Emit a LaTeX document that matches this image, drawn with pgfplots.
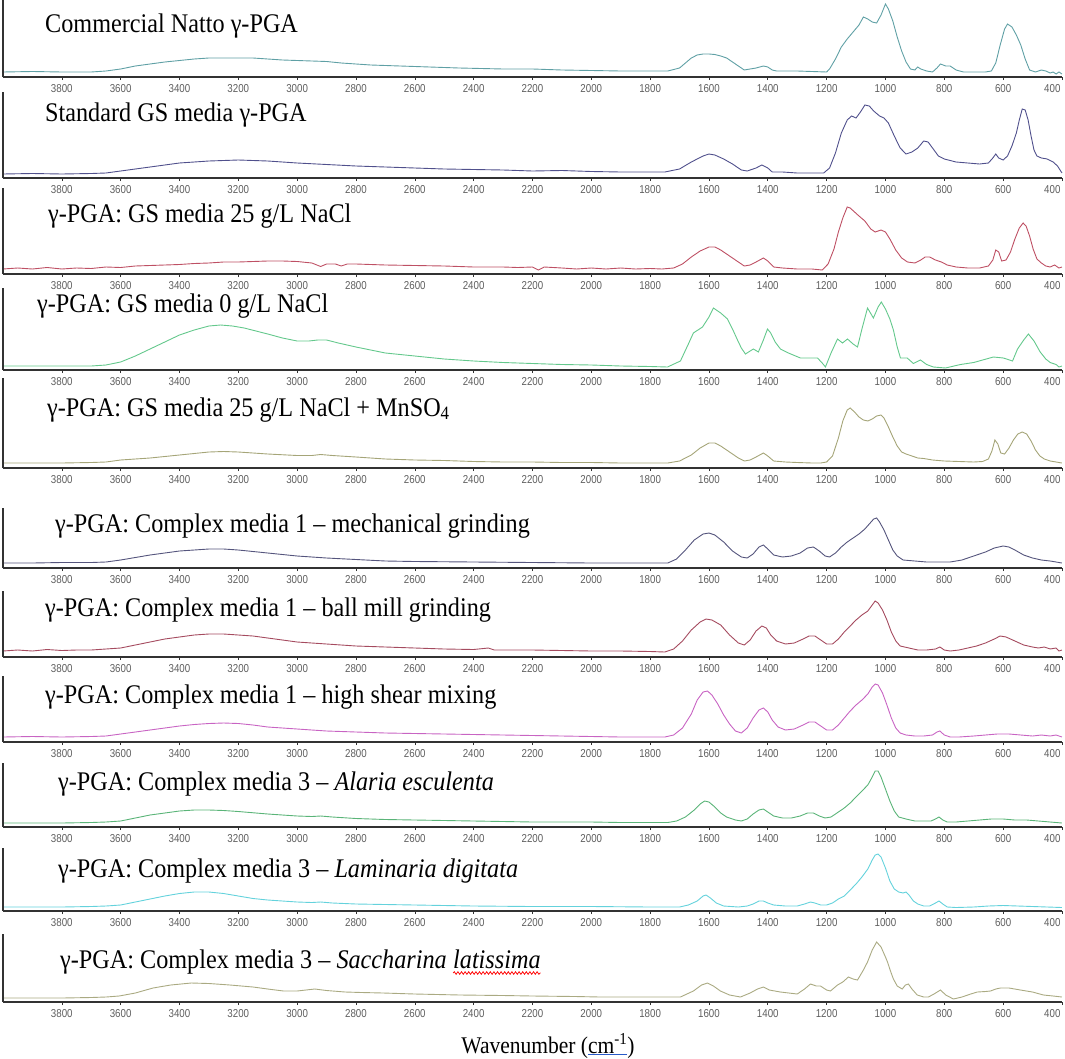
\documentclass[border=0pt]{standalone}
\usepackage{fontspec}
\setmainfont{Liberation Serif}
\newfontfamily\ticksf{Liberation Sans}
\usepackage{graphicx}
\usepackage{pgfplots}
\pgfplotsset{compat=1.18}
\usetikzlibrary{decorations.pathmorphing}
\definecolor{cA}{RGB}{95,160,165}
\definecolor{cB}{RGB}{80,80,140}
\definecolor{cC}{RGB}{190,80,100}
\definecolor{cD}{RGB}{100,200,140}
\definecolor{cE}{RGB}{165,165,120}
\definecolor{cF}{RGB}{85,85,125}
\definecolor{cG}{RGB}{165,75,95}
\definecolor{cH}{RGB}{200,100,195}
\definecolor{cI}{RGB}{90,180,120}
\definecolor{cJ}{RGB}{100,210,220}
\definecolor{cK}{RGB}{170,170,130}
\definecolor{axc}{RGB}{50,50,50}
\definecolor{tkc}{RGB}{95,95,95}
\pgfplotsset{panel/.style={scale only axis, width=1059bp, xmin=400, xmax=4000, x dir=reverse,
  ymin=0, axis x line*=bottom, axis y line=none, xtick={600,800,...,3800},
  extra x ticks={400},
  extra x tick style={xticklabel style={anchor=north east, xshift=2bp}},
  tick align=outside, major tick length=3bp,
  axis line style={line width=1.3bp, color=axc},
  xtick style={line width=0.6bp, color=axc},
  xticklabel style={font=\ticksf\fontsize{11.5}{12}\selectfont, text=tkc, yshift=-1bp},
  xticklabel={\scalebox{0.85}[1]{\pgfmathprintnumber{\tick}}},
  /pgf/number format/1000 sep={}, /pgf/number format/assume math mode=true,
  clip=false, anchor=south west}}
\newcommand\panel[4]{%
\begin{axis}[panel, at={(3bp,-#1bp)}, height=#2bp, ymax=#2]
\addplot[color=#3, line width=0.9bp] coordinates {#4};
\draw[line width=1.3bp, color=axc] (axis cs:4000,0) -- (axis cs:4000,#2);
\end{axis}}
\newcommand\plabel[3]{\node[anchor=base west, inner sep=0pt, font=\fontsize{27}{27}\selectfont] at (#1bp,-#2bp) {\scalebox{0.9}[1]{#3}};}
\newcommand\redwavy[1]{\tikz[baseline=(t.base)]{\node[inner sep=0pt,outer sep=0pt,anchor=base](t){#1};\draw[red,line width=0.8bp,decorate,decoration={snake,amplitude=1.3bp,segment length=4bp}]([yshift=-5bp]t.base west)--([yshift=-5bp]t.base east);}}
\begin{document}
\begin{tikzpicture}
\useasboundingbox (0,0) rectangle (1065bp,-1059bp);
% Panel 1
\panel{77}{77}{cA}{(4000,5)(3900,5.5)(3800,5)(3700,5)(3650,6)(3600,8)(3550,11)(3500,13)(3450,15)(3400,16.5)(3350,18)(3300,19)(3250,19)(3200,19)(3150,19)(3100,18)(3050,17)(3000,16.5)(2950,16)(2900,15.5)(2850,14)(2800,13)(2750,12)(2700,11.5)(2650,11)(2550,10)(2450,9)(2300,8)(2200,8)(2100,7)(2000,6.5)(1900,6)(1800,6)(1740,6)(1700,9)(1680,14)(1660,19)(1640,22)(1620,23)(1600,23)(1580,22.5)(1560,21)(1540,19)(1520,15)(1500,11)(1480,7)(1460,8)(1440,9)(1415,11)(1400,10)(1385,7)(1370,6)(1300,6)(1250,5.5)(1200,5)(1190,8)(1170,18)(1150,30)(1130,38)(1110,45)(1090,52)(1075,60)(1060,58)(1045,55)(1030,54)(1015,62)(1000,73)(990,68)(975,56)(960,40)(945,26)(930,15)(915,8)(900,7)(890,10)(880,8)(860,6)(840,5)(825,9)(813,13)(795,11)(780,11)(760,7)(735,5)(700,5)(660,5)(640,6)(625,14)(610,32)(595,48)(585,53)(570,50)(555,42)(540,32)(525,18)(510,7)(490,5)(470,7)(455,6)(440,4)(430,5)(420,3)(410,5)(400,3)}
% Panel 2
\panel{178}{86}{cB}{(4000,4)(3900,4.5)(3800,4)(3700,4.5)(3650,5)(3600,7)(3500,11)(3400,15)(3300,17)(3200,18)(3100,17)(3000,15)(2900,13.5)(2800,12)(2700,11)(2600,10)(2500,9)(2400,8.5)(2300,8)(2200,7)(2100,7.5)(2000,6.5)(1900,6)(1800,6)(1750,6)(1700,9)(1660,16)(1620,22)(1600,24)(1580,23)(1550,19)(1520,14)(1490,8)(1470,7)(1440,10)(1420,13)(1400,10)(1385,6)(1350,6)(1300,5)(1250,5)(1210,5)(1190,10)(1170,25)(1150,45)(1130,58)(1115,62)(1100,60)(1085,66)(1070,73)(1055,72)(1040,67)(1020,62)(1005,60)(990,55)(970,42)(950,30)(930,24)(910,26)(890,30)(870,37)(855,36)(840,30)(820,22)(800,19)(760,16)(720,15)(680,14)(650,15)(635,20)(625,24)(615,20)(600,18)(585,22)(570,32)(555,45)(545,58)(535,69)(525,68)(515,58)(505,42)(495,28)(485,22)(470,20)(450,19)(430,16)(415,12)(400,5)}
% Panel 3
\panel{274}{86}{cC}{(4000,5)(3950,6)(3900,5)(3850,6.5)(3800,5)(3750,6)(3700,5.5)(3650,7)(3600,6.5)(3550,8)(3500,8.5)(3450,9)(3400,9.5)(3350,10.5)(3300,11)(3250,12)(3200,12)(3150,12.5)(3100,13)(3050,13)(3000,12.5)(2950,11)(2920,7.5)(2900,10)(2870,10)(2850,8)(2830,10)(2800,10)(2750,9.5)(2700,9)(2600,8.5)(2500,8)(2450,7.5)(2400,7)(2300,7)(2250,6.5)(2200,7)(2180,4)(2160,7)(2100,6)(2050,5)(2000,6)(1950,5)(1900,6)(1850,5)(1800,5.5)(1760,5)(1720,6)(1690,10)(1660,17)(1630,23)(1600,27)(1580,27)(1560,24)(1530,18)(1500,12)(1480,8)(1460,9)(1440,12)(1415,16)(1400,13)(1380,7)(1350,6)(1300,5)(1250,5)(1215,4)(1195,10)(1175,25)(1160,42)(1145,56)(1130,67)(1120,66)(1105,62)(1090,58)(1070,53)(1050,45)(1035,42)(1015,44)(1000,42)(985,35)(965,24)(945,16)(925,12)(900,11)(880,14)(865,17)(850,17)(830,14)(810,12)(790,9)(760,7)(720,6)(680,6)(650,8)(635,14)(625,24)(615,22)(605,13)(590,14)(575,22)(560,35)(545,46)(532,51)(522,48)(510,38)(498,25)(485,15)(470,11)(455,8)(440,7)(425,9)(410,6)(400,7)}
% Panel 4
\panel{370}{82}{cD}{(4000,4)(3900,4)(3800,4)(3700,4)(3650,5)(3600,8)(3550,14)(3500,21)(3450,28)(3400,35)(3350,40)(3300,44)(3260,45)(3220,44)(3180,42)(3140,39)(3100,36)(3050,32)(3000,29)(2960,29)(2930,30)(2900,30)(2860,27)(2800,23)(2700,17)(2600,14)(2500,11)(2400,9)(2300,7.5)(2200,6.5)(2100,5.5)(2000,5)(1900,4)(1800,3.5)(1741,3)(1697,9)(1670,26)(1653,37)(1622,43)(1600,53)(1585,62)(1560,57)(1537,51)(1520,41)(1503,30)(1490,22)(1476,16)(1460,19)(1449,21)(1432,18)(1415,30)(1401,41)(1390,37)(1375,28)(1357,21)(1330,17)(1289,12)(1250,12)(1231,12)(1215,7)(1204,3)(1185,17)(1163,31)(1146,27)(1129,31)(1110,26)(1095,23)(1080,41)(1061,62)(1041,52)(1025,63)(1014,68)(1000,61)(985,51)(973,40)(960,23)(949,12)(926,12)(905,6.5)(881,10)(860,5.5)(837,3)(796,2)(745,5.5)(700,7.5)(633,13)(599,12)(568,9)(551,21)(530,30)(514,36)(495,29)(474,18)(455,11)(440,7.5)(420,5.5)(410,3)(400,4)}
% Panel 5
\panel{468}{90}{cE}{(4000,5)(3900,5)(3800,5)(3700,5.5)(3650,6)(3600,8)(3500,10)(3400,13)(3300,16)(3250,16.5)(3200,16)(3100,14)(3000,12.5)(2950,12.5)(2920,13.5)(2880,12.5)(2800,11)(2700,9)(2600,8)(2500,7.5)(2400,6.5)(2300,6)(2200,6)(2100,5.5)(2000,5.5)(1900,5)(1800,5)(1740,5)(1700,7)(1660,13)(1630,20)(1600,25)(1580,25)(1560,22)(1530,16)(1500,10)(1480,7)(1460,8)(1440,11)(1415,15)(1400,12)(1380,7)(1340,6)(1300,5.5)(1250,5)(1220,5)(1200,6)(1180,12)(1160,30)(1145,47)(1130,58)(1120,60)(1105,56)(1090,51)(1075,48)(1060,47)(1045,49)(1030,52)(1015,53)(1005,50)(990,41)(975,31)(960,22)(945,16)(930,14)(910,12)(890,10)(870,9.5)(840,8)(800,7)(750,6.5)(700,6)(670,6.5)(650,9)(638,17)(628,28)(618,24)(608,15)(595,14)(580,20)(565,28)(550,34)(535,36)(520,34)(505,27)(490,18)(475,12)(460,9)(440,7)(420,6)(400,5)}
% Panel 6
\panel{568}{60}{cF}{(4000,5)(3900,5)(3800,5.5)(3700,5.5)(3650,6)(3600,8)(3500,13)(3400,17)(3300,19)(3250,19)(3200,18)(3100,15)(3000,12)(2950,11)(2900,10)(2800,8.5)(2700,7)(2600,6.5)(2400,6)(2200,5.5)(2000,5)(1900,5)(1800,5)(1740,5)(1710,9)(1680,18)(1650,28)(1620,34)(1600,35)(1580,33)(1550,26)(1520,17)(1490,11)(1470,10)(1450,14)(1430,21)(1415,23)(1400,19)(1380,13)(1350,11)(1320,12)(1290,15)(1265,20)(1245,21)(1225,17)(1205,12)(1190,11)(1170,15)(1150,21)(1130,26)(1110,30)(1090,34)(1070,39)(1055,44)(1040,49)(1030,50)(1020,46)(1005,38)(990,28)(975,18)(960,12)(940,8)(900,7)(860,6)(820,6)(780,6)(740,8)(700,12)(660,16)(630,20)(600,22)(580,21)(560,18)(530,13)(500,10)(470,8)(440,7)(420,6)(400,5)}
% Panel 7
\panel{657}{66}{cG}{(4000,6)(3950,7)(3900,6)(3850,7.5)(3800,6.5)(3750,7)(3700,7)(3650,8)(3600,9)(3550,12)(3500,15)(3450,18)(3400,20)(3350,22)(3300,23)(3250,23)(3200,22)(3150,21)(3100,19)(3050,17)(3000,15)(2950,14)(2900,13)(2850,12)(2800,11)(2700,10)(2600,9)(2500,8)(2400,7.5)(2350,9)(2330,7)(2300,7)(2200,7)(2100,6.5)(2000,6)(1900,6)(1800,5.5)(1750,5)(1720,8)(1690,16)(1660,27)(1630,35)(1610,38)(1590,37)(1560,32)(1530,22)(1500,14)(1480,12)(1460,17)(1440,26)(1420,31)(1405,29)(1390,22)(1370,16)(1340,13)(1310,14)(1280,18)(1260,21)(1240,21)(1220,17)(1200,13)(1180,13)(1160,18)(1140,25)(1120,31)(1100,37)(1080,42)(1060,46)(1045,52)(1035,56)(1025,54)(1010,47)(995,37)(980,25)(965,16)(950,11)(920,9)(890,7)(860,7)(830,8)(815,10)(800,7)(780,6)(750,7)(720,9)(690,11)(660,14)(630,18)(610,21)(590,20)(560,16)(530,12)(500,10)(480,9)(460,10)(440,8)(420,9)(410,6)(400,7)}
% Panel 8
\panel{742}{66}{cH}{(4000,5)(3900,5.5)(3800,5)(3700,5.5)(3650,6)(3600,8)(3550,10)(3500,12)(3450,14)(3400,16)(3350,17.5)(3300,18.5)(3250,19)(3200,18.5)(3150,17)(3100,15)(3000,13)(2900,11)(2800,10)(2700,9)(2600,8.5)(2500,8)(2400,7.5)(2300,7)(2200,6.5)(2100,6)(2000,5.5)(1900,5)(1800,5)(1750,5)(1720,7)(1690,14)(1660,28)(1640,42)(1620,50)(1605,51)(1590,47)(1570,38)(1550,27)(1530,18)(1510,11)(1490,9)(1470,14)(1450,24)(1430,32)(1415,34)(1400,30)(1385,22)(1365,15)(1340,12)(1310,13)(1280,17)(1260,20)(1240,20)(1220,16)(1200,12)(1180,12)(1160,17)(1140,24)(1120,31)(1100,37)(1080,42)(1060,48)(1045,55)(1035,58)(1025,57)(1010,49)(995,37)(980,24)(965,14)(950,9)(930,7)(900,6)(870,6)(840,7)(825,10)(815,11)(800,7)(780,5)(750,5)(700,6)(660,7)(620,8)(580,8)(540,7)(500,6)(470,7)(440,6)(420,7)(400,5)}
% Panel 9
\panel{827}{64}{cI}{(4000,4)(3900,4)(3800,4)(3700,4.5)(3650,5)(3600,6)(3550,9)(3500,12)(3450,14)(3400,16)(3350,17)(3300,17)(3250,16.5)(3200,15.5)(3100,13)(3000,11)(2950,10.5)(2920,11)(2880,10)(2800,8.5)(2700,7.5)(2600,7)(2500,6.5)(2400,6)(2300,5.5)(2200,5)(2000,5)(1900,4.5)(1800,4.5)(1740,4.5)(1710,6)(1680,10)(1650,17)(1630,23)(1615,26)(1600,25)(1580,20)(1560,14)(1540,10)(1510,7)(1490,6)(1470,8)(1450,13)(1430,17)(1415,18)(1400,15)(1380,11)(1350,9)(1320,9)(1290,11)(1265,14)(1245,14)(1225,11)(1205,9)(1185,10)(1165,14)(1140,19)(1120,24)(1100,30)(1080,36)(1060,42)(1045,50)(1035,56)(1025,56)(1015,50)(1000,38)(985,26)(970,16)(955,10)(930,8)(900,6)(870,6)(845,6)(830,8)(818,10)(805,7)(790,5)(760,5)(720,6)(680,7)(640,8)(600,8)(560,7)(520,7)(480,6)(440,5)(400,4)}
% Panel 10
\panel{911}{63}{cJ}{(4000,4)(3900,4)(3800,4)(3700,4.5)(3650,5)(3600,6)(3550,9)(3500,12)(3450,15)(3400,17.5)(3350,19)(3300,19)(3250,17.5)(3200,15)(3150,12.5)(3100,11)(3050,10)(3000,9)(2950,8.5)(2920,9)(2880,8)(2800,7)(2700,6.5)(2600,6)(2500,5.5)(2400,5)(2200,4.5)(2000,4.5)(1800,4)(1700,4)(1670,6)(1640,10)(1620,15)(1610,16)(1595,13)(1575,8)(1550,5)(1500,4)(1470,5)(1450,7)(1430,10)(1415,10)(1400,8)(1380,6)(1340,5)(1300,5)(1275,7)(1255,9)(1240,8)(1220,6)(1200,6)(1180,8)(1160,12)(1140,15)(1120,21)(1100,27)(1080,34)(1060,42)(1045,51)(1035,56)(1025,57)(1015,54)(1000,43)(985,30)(970,22)(955,19)(940,18)(930,19)(920,16)(905,10)(890,7)(870,5)(850,5)(830,8)(818,10)(805,7)(790,4)(760,3.5)(700,4)(650,5)(600,5.5)(550,5)(500,4.5)(450,4)(400,3.5)}
% Panel 11
\panel{1002}{68}{cK}{(4000,4)(3900,4)(3800,4)(3700,4.5)(3650,5)(3605,6)(3550,9)(3490,14)(3430,17)(3360,19)(3300,18.5)(3228,17)(3150,15)(3100,13)(3046,11)(3000,11)(2970,12)(2940,13)(2900,11.5)(2837,10)(2780,9.5)(2707,9)(2600,8)(2446,7)(2300,6.5)(2200,6)(2055,5.5)(1969,5)(1800,5)(1697,5)(1653,11)(1625,17)(1605,19)(1585,16)(1561,11)(1530,7)(1493,5)(1460,9)(1435,13)(1415,15)(1395,12)(1357,10)(1300,8)(1275,13)(1255,18)(1235,16)(1221,16)(1200,12)(1187,11)(1163,17)(1145,20)(1126,25)(1110,23)(1095,22)(1075,32)(1061,40)(1045,52)(1030,60)(1015,55)(1000,45)(993,40)(983,31)(973,23)(960,16)(943,13)(932,17)(922,18)(910,13)(892,7)(870,5)(854,5)(835,8)(813,12)(795,7)(769,3)(740,5)(710,8)(688,10)(660,10.5)(643,11)(625,13)(609,14)(580,14)(541,12)(500,10)(463,7)(430,6)(400,5)}
% Labels
\plabel{45}{32}{Commercial Natto γ-PGA}
\plabel{45}{121}{Standard GS media γ-PGA}
\plabel{48}{222}{γ-PGA: GS media 25 g/L NaCl}
\plabel{37}{312}{γ-PGA: GS media 0 g/L NaCl}
\plabel{47}{416}{γ-PGA: GS media 25 g/L NaCl + MnSO\textsubscript{4}}
\plabel{55}{532}{γ-PGA: Complex media 1 – mechanical grinding}
\plabel{45}{616}{γ-PGA: Complex media 1 – ball mill grinding}
\plabel{45}{703}{γ-PGA: Complex media 1 – high shear mixing}
\plabel{58}{790}{γ-PGA: Complex media 3 – \textit{Alaria esculenta}}
\plabel{58}{877}{γ-PGA: Complex media 3 – \textit{Laminaria digitata}}
\plabel{60}{968}{γ-PGA: Complex media 3 – \textit{Saccharina} \redwavy{\textit{latissima}}}
\node[anchor=base, inner sep=0pt, font=\fontsize{24}{24}\selectfont] at (548bp,-1053bp) {\scalebox{0.9}[1]{Wavenumber (\textcolor[RGB]{40,90,200}{\underline{\textcolor{black}{cm\textsuperscript{-1}}}})}};
\end{tikzpicture}
\end{document}
